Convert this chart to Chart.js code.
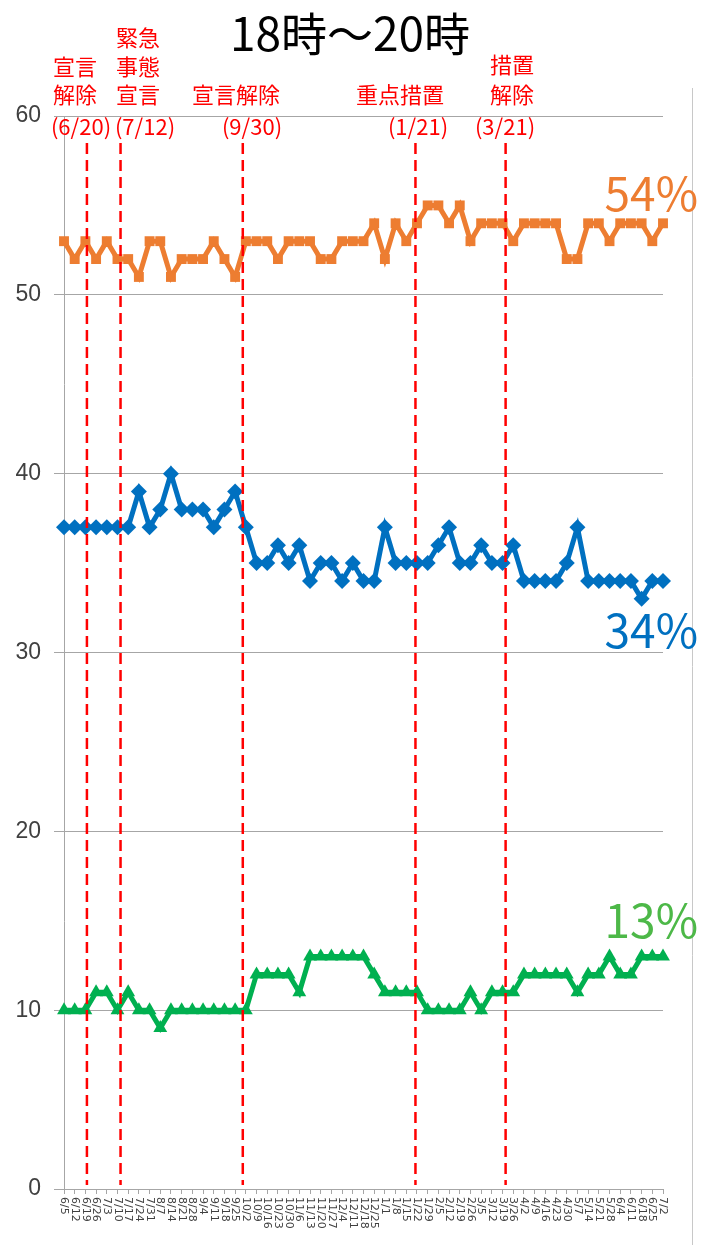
<!DOCTYPE html>
<html lang="ja">

<head>
    <meta charset="UTF-8">
    <title>18時～20時</title>
    <script src="https://cdn.jsdelivr.net/npm/chart.js"></script>
    <style>
        body {
            margin: 0;
            background: #fff;
        }
    </style>
</head>

<body>
    <canvas id="grafico" width="701" height="1245"></canvas>
    <script>
        // 週ごとの日付ラベル
        const labels = ['6/5', '6/12', '6/19', '6/26', '7/3', '7/10', '7/17', '7/24', '7/31', '8/7', '8/14', '8/21',
            '8/28', '9/4', '9/11', '9/18', '9/25', '10/2', '10/9', '10/16', '10/23', '10/30', '11/6', '11/13',
            '11/20', '11/27', '12/4', '12/11', '12/18', '12/25', '1/1', '1/8', '1/15', '1/22', '1/29', '2/5',
            '2/12', '2/19', '2/26', '3/5', '3/12', '3/19', '3/26', '4/2', '4/9', '4/16', '4/23', '4/30', '5/7',
            '5/14', '5/21', '5/28', '6/4', '6/11', '6/18', '6/25', '7/2'];

        const orange = [53, 52, 53, 52, 53, 52, 52, 51, 53, 53, 51, 52, 52, 52, 53, 52, 51, 53, 53, 53, 52, 53, 53, 53,
            52, 52, 53, 53, 53, 54, 52, 54, 53, 54, 55, 55, 54, 55, 53, 54, 54, 54, 53, 54, 54, 54, 54, 52, 52, 54,
            54, 53, 54, 54, 54, 53, 54];
        const blue = [37, 37, 37, 37, 37, 37, 37, 39, 37, 38, 40, 38, 38, 38, 37, 38, 39, 37, 35, 35, 36, 35, 36, 34,
            35, 35, 34, 35, 34, 34, 37, 35, 35, 35, 35, 36, 37, 35, 35, 36, 35, 35, 36, 34, 34, 34, 34, 35, 37, 34,
            34, 34, 34, 34, 33, 34, 34];
        const green = [10, 10, 10, 11, 11, 10, 11, 10, 10, 9, 10, 10, 10, 10, 10, 10, 10, 10, 12, 12, 12, 12, 11, 13,
            13, 13, 13, 13, 13, 12, 11, 11, 11, 11, 10, 10, 10, 10, 11, 10, 11, 11, 11, 12, 12, 12, 12, 12, 11, 12,
            12, 13, 12, 12, 13, 13, 13];

        const yTicks = [0, 10, 20, 30, 40, 50, 60];

        // 出来事: 直前の週ラベル + 日数
        const eventWeek = ['6/19', '7/10', '9/25', '1/15', '3/19'];
        const eventDays = [1, 2, 5, 6, 2];

        const title = '18時～20時';
        const jp = '"Noto Sans CJK JP", "Noto Sans", sans-serif';

        // 注記の配置 (見た目のみ)
        const notes = [
            { lines: [['宣言', 75, 67], ['解除', 75, 95], ['(6/20)', 81, 127]] },
            { lines: [['緊急', 138, 38], ['事態', 138, 67], ['宣言', 138, 95], ['(7/12)', 145, 127]] },
            { lines: [['宣言解除', 236, 95], ['(9/30)', 252, 127]] },
            { lines: [['重点措置', 400, 95], ['(1/21)', 418, 127]] },
            { lines: [['措置', 512, 65], ['解除', 512, 95], ['(3/21)', 505, 127]] }
        ];
        const endLabels = [
            { text: '54%', data: orange, color: '#ED7D31', dy: -30 },
            { text: '34%', data: blue, color: '#0070C0', dy: 50 },
            { text: '13%', data: green, color: '#4DB848', dy: -36 }
        ];

        const decor = {
            id: 'decor',
            afterDatasetsDraw(chart) {
                const ctx = chart.ctx;
                const xs = chart.scales.x;
                const area = chart.chartArea;

                // 縦の破線
                ctx.save();
                ctx.strokeStyle = '#FF0000';
                ctx.lineWidth = 2.5;
                ctx.setLineDash([11, 6]);
                eventWeek.forEach((w, i) => {
                    const x = xs.getPixelForValue(labels.indexOf(w) + eventDays[i] / 7);
                    ctx.beginPath();
                    ctx.moveTo(x, 143);
                    ctx.lineTo(x, area.bottom - 4);
                    ctx.stroke();
                });
                ctx.restore();
            },
            afterDraw(chart) {
                const ctx = chart.ctx;
                const xs = chart.scales.x;
                const ys = chart.scales.y;
                const area = chart.chartArea;

                ctx.save();
                // 右側の枠線
                ctx.strokeStyle = '#c8c8c8';
                ctx.lineWidth = 1;
                ctx.beginPath();
                ctx.moveTo(692.5, 88);
                ctx.lineTo(692.5, 1245);
                ctx.stroke();

                // タイトル
                ctx.fillStyle = '#000';
                ctx.font = '46px ' + jp;
                ctx.textAlign = 'center';
                ctx.textBaseline = 'middle';
                ctx.fillText(title, 350, 34);

                // 注記
                ctx.fillStyle = '#FF0000';
                ctx.font = '22px ' + jp;
                notes.forEach(n => n.lines.forEach(([t, x, y]) => ctx.fillText(t, x, y)));

                // 右端のパーセント
                ctx.font = '46px ' + jp;
                ctx.textAlign = 'right';
                endLabels.forEach(e => {
                    ctx.fillStyle = e.color;
                    const y = ys.getPixelForValue(e.data[e.data.length - 1]) + e.dy;
                    ctx.fillText(e.text, 698, y);
                });

                // x軸ラベル (縦書き)
                ctx.fillStyle = '#404040';
                ctx.font = '11px "DejaVu Sans", sans-serif';
                ctx.textAlign = 'left';
                labels.forEach((l, i) => {
                    const x = xs.getPixelForValue(i);
                    ctx.save();
                    ctx.translate(x, area.bottom + 8);
                    ctx.rotate(Math.PI / 2);
                    ctx.fillText(l, 0, 0);
                    ctx.restore();
                });
                ctx.restore();
            }
        };

        const ctx = document.getElementById('grafico').getContext('2d');
        new Chart(ctx, {
            type: 'line',
            data: {
                labels: labels,
                datasets: [
                    {
                        data: orange,
                        borderColor: '#ED7D31',
                        backgroundColor: '#ED7D31',
                        borderWidth: 5,
                        pointStyle: 'rect',
                        pointRadius: 7,
                        pointBorderWidth: 0
                    },
                    {
                        data: blue,
                        borderColor: '#0070C0',
                        backgroundColor: '#0070C0',
                        borderWidth: 5,
                        pointStyle: 'rectRot',
                        pointRadius: 8,
                        pointBorderWidth: 0
                    },
                    {
                        data: green,
                        borderColor: '#00B050',
                        backgroundColor: '#00B050',
                        borderWidth: 5,
                        pointStyle: 'triangle',
                        pointRadius: 8,
                        pointBorderWidth: 0
                    }
                ]
            },
            options: {
                responsive: false,
                animation: false,
                devicePixelRatio: 1,
                layout: {
                    padding: { top: 116, right: 38, bottom: 0, left: 0 }
                },
                plugins: {
                    legend: { display: false },
                    tooltip: { enabled: false }
                },
                elements: {
                    line: { tension: 0 }
                },
                scales: {
                    x: {
                        type: 'category',
                        offset: false,
                        grid: {
                            drawOnChartArea: false,
                            drawTicks: true,
                            tickLength: 5,
                            color: '#a6a6a6'
                        },
                        border: { color: '#a6a6a6' },
                        ticks: { display: false },
                        afterFit: s => { s.height = 56; }
                    },
                    y: {
                        min: 0,
                        max: 60,
                        afterBuildTicks: s => { s.ticks = yTicks.map(v => ({ value: v })); },
                        ticks: {
                            color: '#404040',
                            padding: 13,
                            font: { size: 23, family: '"Liberation Sans", "Noto Sans", sans-serif' }
                        },
                        grid: {
                            color: '#a6a6a6',
                            tickLength: 10
                        },
                        border: { color: '#a6a6a6' },
                        afterFit: s => { s.width = 64; }
                    }
                }
            },
            plugins: [decor]
        });
    </script>
</body>

</html>
